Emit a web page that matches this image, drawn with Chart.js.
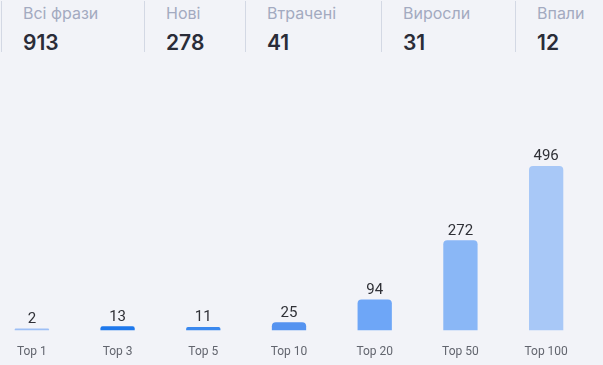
<!DOCTYPE html>
<html>
<head>
<meta charset="utf-8">
<script src="https://cdn.jsdelivr.net/npm/chart.js@4"></script>
<style>
  html, body { margin: 0; padding: 0; background: #f2f3f8; width: 603px; height: 365px; overflow: hidden; }
  .stats { position: absolute; top: 0; left: 0; width: 603px; height: 56px; font-family: Inter, "Noto Sans", sans-serif; }
  .stat { position: absolute; top: 1px; height: 51px; border-left: 1px solid #d3d8e4; padding-left: 21px; }
  .stat .lbl { font-size: 16px; color: #a3aac0; line-height: 20px; margin-top: 2px; }
  .stat .val { font-size: 21px; font-weight: 600; color: #2a2c38; line-height: 26px; margin-top: 7px; }
  .wrap { position: absolute; left: -11px; top: 112px; width: 600px; height: 253px; }
</style>
</head>
<body>
<div class="stats" id="stats"></div>
<div class="wrap"><canvas id="chart"></canvas></div>
<script>
const statLabels = ['Всі фрази', 'Нові', 'Втрачені', 'Виросли', 'Впали'];
const statValues = [913, 278, 41, 31, 12];
const statX = [1, 144, 245, 381, 515];

const categories = ['Top 1', 'Top 3', 'Top 5', 'Top 10', 'Top 20', 'Top 50', 'Top 100'];
const values = [2, 13, 11, 25, 94, 272, 496];
const barColors = ['#9dbff5', '#1e78ec', '#3a88ee', '#5593f0', '#6ea6f7', '#8ab7f6', '#a8c8f7'];

const stats = document.getElementById('stats');
statLabels.forEach((l, i) => {
  const d = document.createElement('div');
  d.className = 'stat';
  d.style.left = statX[i] + 'px';
  d.innerHTML = `<div class="lbl">${l}</div><div class="val">${statValues[i]}</div>`;
  stats.appendChild(d);
});

// values above bars
const valueLabels = {
  id: 'valueLabels',
  afterDatasetsDraw(chart) {
    const ctx = chart.ctx;
    const meta = chart.getDatasetMeta(0);
    ctx.save();
    ctx.font = '15px Roboto';
    ctx.fillStyle = '#2f3036';
    ctx.textAlign = 'center';
    ctx.textBaseline = 'bottom';
    meta.data.forEach((bar, i) => {
      ctx.fillText(values[i], bar.x, Math.min(bar.y, bar.base - 1) - 2);
    });
    ctx.restore();
  }
};

new Chart(document.getElementById('chart'), {
  type: 'bar',
  data: {
    labels: categories,
    datasets: [{
      data: values,
      backgroundColor: barColors,
      borderRadius: { topLeft: 4, topRight: 4 },
      borderSkipped: 'bottom',
      barPercentage: 0.4,
      categoryPercentage: 1,
      minBarLength: 2
    }]
  },
  options: {
    responsive: true,
    maintainAspectRatio: false,
    animation: false,
    layout: { padding: { top: 0, bottom: 0 } },
    plugins: { legend: { display: false }, tooltip: { enabled: false } },
    scales: {
      x: {
        grid: { display: false },
        border: { display: false },
        ticks: { color: '#62656e', font: { family: 'Roboto', size: 12 }, padding: 6 }
      },
      y: { display: false, min: 0, max: 659 }
    }
  },
  plugins: [valueLabels]
});
</script>
</body>
</html>
